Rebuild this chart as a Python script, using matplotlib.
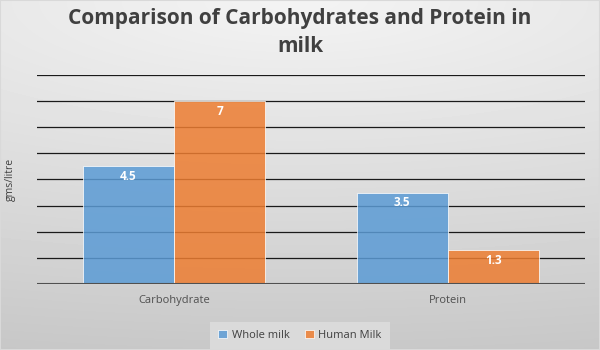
import numpy as np
import matplotlib
matplotlib.use("Agg")
import matplotlib.pyplot as plt

categories = ["Carbohydrate", "Protein"]
whole_milk = [4.5, 3.5]
human_milk = [7, 1.3]
series_names = ["Whole milk", "Human Milk"]

plt.rcParams['font.family'] = ['Open Sans', 'DejaVu Sans']

fig = plt.figure(figsize=(6, 3.5), dpi=100)

# background gradient, light at top, darker towards bottom
bg = fig.add_axes([0, 0, 1, 1], zorder=-10)
yy, xx = np.mgrid[0:1:350j, 0:1:600j]
d = np.sqrt(((xx - 0.5) * 0.5) ** 2 + yy ** 2)
shade = 0.955 - 0.17 * np.clip(d, 0, 1.1)
bg.imshow(shade, cmap="gray", vmin=0, vmax=1, aspect="auto", extent=[0, 1, 1, 0])
bg.set_axis_off()
bg.add_patch(plt.Rectangle((0, 0), 1, 1, fill=False, ec="#d9d9d9", lw=1.5, transform=bg.transAxes))

ax = fig.add_axes([37 / 600, 1 - 284 / 350, 548 / 600, 209 / 350])
ax.patch.set_alpha(0)

x = np.arange(len(categories))
w = 1 / 3
b1 = ax.bar(x - w / 2, whole_milk, w, color="#5b9bd5", alpha=0.85, ec="#ffffff", lw=0.6,
            label=series_names[0], zorder=3)
b2 = ax.bar(x + w / 2, human_milk, w, color="#ed7d31", alpha=0.85, ec="#ffffff", lw=0.6,
            label=series_names[1], zorder=3)

for bars, vals in [(b1, whole_milk), (b2, human_milk)]:
    for r, v in zip(bars, vals):
        ax.annotate(f"{v:g}", (r.get_x() + r.get_width() / 2, v), xytext=(0, -2.5),
                    textcoords="offset points", ha="center", va="top",
                    color="white", fontsize=8.5, fontweight="bold", zorder=5)

ax.set_xlim(-0.5, 1.5)
ax.set_ylim(0, 8)
ax.set_yticks(range(0, 9))
ax.yaxis.grid(True, color="#1a1a1a", lw=0.9, zorder=2)
ax.set_yticklabels([])
ax.tick_params(axis="y", length=0)
ax.tick_params(axis="x", length=0, labelsize=8, labelcolor="#505050", pad=8)
ax.set_xticks(x)
ax.set_xticklabels(categories)
for s in ax.spines.values():
    s.set_visible(False)
ax.axhline(0, color="#505050", lw=1.5, zorder=4)

ax.set_ylabel("gms/litre", fontsize=7.5, color="#404040", labelpad=12)

fig.text(0.5, 0.907, "Comparison of Carbohydrates and Protein in\nmilk", ha="center", va="center",
         fontsize=15, fontweight="bold", color="#404040", linespacing=1.4)

leg = fig.legend(loc="lower center", bbox_to_anchor=(0.5, -0.012), ncol=2, frameon=True,
                 fontsize=8, handlelength=0.8, handleheight=0.8, columnspacing=1.4,
                 handletextpad=0.4, borderpad=0.7, fancybox=False, labelcolor="#404040")
leg.get_frame().set_facecolor("#dadada")
leg.get_frame().set_edgecolor("none")
leg.get_frame().set_alpha(1)

fig.savefig("out.png", dpi=100)
